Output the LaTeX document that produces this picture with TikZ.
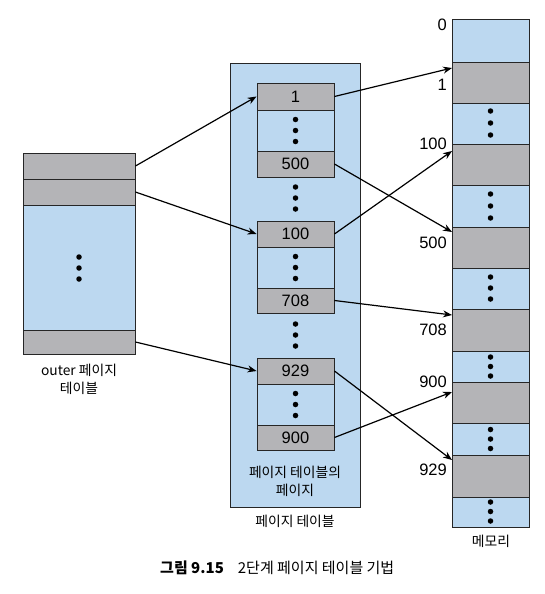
\documentclass[tikz,border=0pt]{standalone}
\usepackage{fontspec}
\setmainfont{Liberation Sans}
\newfontfamily\kr{Noto Sans CJK KR}
\usetikzlibrary{arrows.meta}
\definecolor{cblue}{RGB}{188,216,240}
\definecolor{cgray}{RGB}{180,180,183}
% name, x1, y1, x2, y2, style, text
\newcommand\mkbox[7]{\node[#6, minimum width={(#4)-(#2)}, minimum height={(#5)-(#3)}] (#1) at ({((#2)+(#4))/2},{((#3)+(#5))/2}) {#7};}
% x, y center, spacing
\newcommand\tdots[3]{\node[dot] at (#1,{(#2)-(#3)}) {};\node[dot] at (#1,#2) {};\node[dot] at (#1,{(#2)+(#3)}) {};}
\begin{document}
\begin{tikzpicture}[x=1pt,y=-1pt,
  cell/.style={draw=black!85, line width=0.9pt, inner sep=0pt, font=\fontsize{16.5}{16.5}\selectfont},
  gcell/.style={cell, fill=cgray},
  bcell/.style={cell, fill=cblue},
  lbl/.style={font=\kr\fontsize{13.8}{18}\selectfont, align=center, inner sep=0pt},
  num/.style={font=\fontsize{16.5}{16.5}\selectfont, inner sep=0pt, anchor=east},
  arr/.style={-{Stealth[length=9pt,width=7pt]}, line width=1.2pt},
  dot/.style={circle, fill=black, inner sep=0pt, minimum size=5.5pt}]
\useasboundingbox[fill=white] (0,0) rectangle (544,594);

% outer page table
\mkbox{o1}{23}{153}{135}{179}{gcell}{}
\mkbox{o2}{23}{179}{135}{205}{gcell}{}
\mkbox{ob}{23}{205}{135}{330}{bcell}{}
\mkbox{o3}{23}{330}{135}{354}{gcell}{}
\tdots{79}{268}{11}
\node[lbl] (olbl) at (79,379) {outer 페이지\\테이블};

% page table container
\mkbox{pt}{230}{63}{360}{507}{bcell}{}
\node[lbl] (ptlbl) at (295,521) {페이지 테이블};

% pages of page table
\mkbox{p1}{257}{83}{334}{110}{gcell}{1}
\mkbox{pb1}{257}{110}{334}{151}{bcell}{}
\mkbox{p500}{257}{151}{334}{177}{gcell}{500}
\tdots{295.5}{198}{11}
\mkbox{p100}{257}{221}{334}{247}{gcell}{100}
\mkbox{pb2}{257}{247}{334}{288}{bcell}{}
\mkbox{p708}{257}{288}{334}{313}{gcell}{708}
\tdots{295.5}{335}{11}
\mkbox{p929}{257}{358}{334}{384}{gcell}{929}
\mkbox{pb3}{257}{384}{334}{425}{bcell}{}
\mkbox{p900}{257}{425}{334}{450}{gcell}{900}
\tdots{295.5}{130.5}{11}
\tdots{295.5}{267.5}{11}
\tdots{295.5}{404.5}{11}
\node[lbl] (pplbl) at (295,481) {페이지 테이블의\\페이지};

% memory
\mkbox{m0}{452}{19}{529}{62}{bcell}{}
\mkbox{m1}{452}{62}{529}{103}{gcell}{}
\mkbox{mb1}{452}{103}{529}{144}{bcell}{}
\mkbox{m100}{452}{144}{529}{185}{gcell}{}
\mkbox{mb2}{452}{185}{529}{227}{bcell}{}
\mkbox{m500}{452}{227}{529}{268}{gcell}{}
\mkbox{mb3}{452}{268}{529}{309}{bcell}{}
\mkbox{m708}{452}{309}{529}{351}{gcell}{}
\mkbox{mb4}{452}{351}{529}{382}{bcell}{}
\mkbox{m900}{452}{382}{529}{423}{gcell}{}
\mkbox{mb5}{452}{423}{529}{455}{bcell}{}
\mkbox{m929}{452}{455}{529}{497}{gcell}{}
\mkbox{mb6}{452}{497}{529}{527}{bcell}{}
\tdots{490.5}{123}{12}
\tdots{490.5}{206}{12}
\tdots{490.5}{288}{11}
\tdots{490.5}{366.5}{9.5}
\tdots{490.5}{439}{9.5}
\tdots{490.5}{511.5}{9.5}
\node[lbl] (mlbl) at (491,541) {메모리};

\node[num] (n0) at (447,25) {0};
\node[num] (n1) at (447,85) {1};
\node[num] (n100) at (447,144) {100};
\node[num] (n500) at (447,243) {500};
\node[num] (n708) at (447,330) {708};
\node[num] (n900) at (447,382) {900};
\node[num] (n929) at (447,470) {929};

% arrow targets on memory
\coordinate (t1) at (452,68);
\coordinate (t500) at (452,232);
\coordinate (t100) at (452,151);
\coordinate (t708) at (452,315);
\coordinate (t929) at (452,460);
\coordinate (t900) at (452,392);

\draw[arr] (o1.east) -- (p1.west);
\draw[arr] (o2.east) -- (p100.west);
\draw[arr] (o3.east) -- (p929.west);
\draw[arr] (p1.east) -- (t1);
\draw[arr] (p500.east) -- (t500);
\draw[arr] (p100.east) -- (t100);
\draw[arr] (p708.east) -- (t708);
\draw[arr] (p929.east) -- (t929);
\draw[arr] (p900.east) -- (t900);

% caption
\node[anchor=west, inner sep=0pt, font=\kr\fontsize{15}{17}\selectfont] (cap) at (160,568) {{\bfseries 그림 9.15}\hspace{14pt}2단계 페이지 테이블 기법};
\end{tikzpicture}
\end{document}
